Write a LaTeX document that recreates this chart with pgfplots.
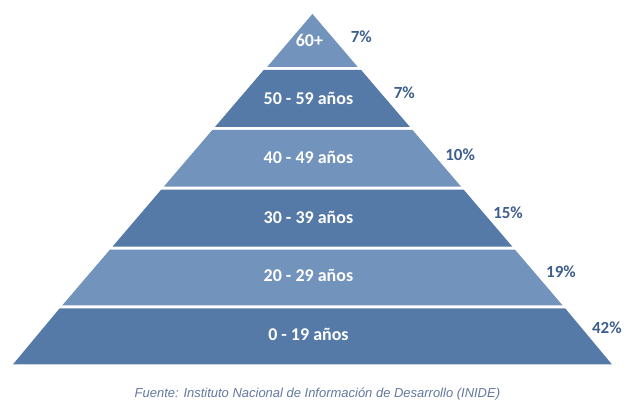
\documentclass[border=0pt]{standalone}
\usepackage{pgfplots}
\pgfplotsset{compat=1.18}
\usepackage{fontspec}
\setmainfont{Carlito}
\newfontfamily\srcfont{Liberation Sans}
\definecolor{lightb}{RGB}{114,147,187}
\definecolor{darkb}{RGB}{85,122,168}
\definecolor{lblb}{RGB}{62,94,143}
\definecolor{srcc}{RGB}{100,120,160}
\begin{document}
\begin{tikzpicture}
\begin{axis}[
  width=625pt, height=403pt, scale only axis,
  xmin=0, xmax=625, ymin=0, ymax=403, y dir=reverse,
  hide axis, clip=false,
]
\addplot[draw=none, fill=white] coordinates {(0,0) (625,0) (625,403) (0,403)} --cycle;
% layers: apex (313,14), base y=365 half width 300
\addplot[draw=none, fill=lightb] coordinates {(313,14) (358.3,67) (267.7,67)} --cycle;
\addplot[draw=none, fill=darkb] coordinates {(264.3,70) (361.7,70) (410.5,127) (215.5,127)} --cycle;
\addplot[draw=none, fill=lightb] coordinates {(212.9,130) (413.1,130) (461.9,187) (164.1,187)} --cycle;
\addplot[draw=none, fill=darkb] coordinates {(161.5,190) (464.5,190) (513.2,247) (112.8,247)} --cycle;
\addplot[draw=none, fill=lightb] coordinates {(110.2,250) (515.8,250) (563.7,306) (62.3,306)} --cycle;
\addplot[draw=none, fill=darkb] coordinates {(59.7,309) (566.3,309) (613,365) (13,365)} --cycle;
% layer labels
\node[text=white, font=\bfseries\fontsize{18}{20}\selectfont] at (axis cs:310,41) {60+};
\node[text=white, font=\bfseries\fontsize{18}{20}\selectfont] at (axis cs:309,99) {50 - 59 años};
\node[text=white, font=\bfseries\fontsize{18}{20}\selectfont] at (axis cs:309,158) {40 - 49 años};
\node[text=white, font=\bfseries\fontsize{18}{20}\selectfont] at (axis cs:309,218) {30 - 39 años};
\node[text=white, font=\bfseries\fontsize{18}{20}\selectfont] at (axis cs:309,276) {20 - 29 años};
\node[text=white, font=\bfseries\fontsize{18}{20}\selectfont] at (axis cs:309,335) {0 - 19 años};
% percentages
\node[text=lblb, font=\bfseries\fontsize{17}{19}\selectfont] at (axis cs:362,37) {7\%};
\node[text=lblb, font=\bfseries\fontsize{17}{19}\selectfont] at (axis cs:405,93) {7\%};
\node[text=lblb, font=\bfseries\fontsize{17}{19}\selectfont] at (axis cs:461,155) {10\%};
\node[text=lblb, font=\bfseries\fontsize{17}{19}\selectfont] at (axis cs:509,213) {15\%};
\node[text=lblb, font=\bfseries\fontsize{17}{19}\selectfont] at (axis cs:562,272) {19\%};
\node[text=lblb, font=\bfseries\fontsize{17}{19}\selectfont] at (axis cs:608,328) {42\%};
% source
\node[text=srcc, font=\srcfont\itshape\fontsize{13}{15}\selectfont] at (axis cs:318,395) {Fuente: Instituto Nacional de Información de Desarrollo (INIDE)};
\end{axis}
\end{tikzpicture}
\end{document}
